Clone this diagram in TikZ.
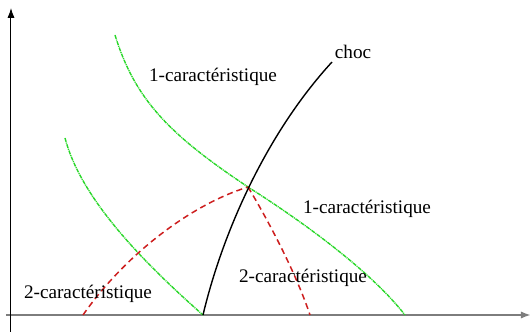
\documentclass[tikz,border=0pt]{standalone}
\usepackage{fontspec}
\setmainfont{Liberation Serif}
\usetikzlibrary{arrows.meta}
\definecolor{charg}{RGB}{40,215,40}
\definecolor{charr}{RGB}{205,30,30}
\definecolor{axgray}{RGB}{125,125,125}
\begin{document}
\begin{tikzpicture}[x=0.5pt,y=-0.5pt,
  lbl/.style={inner sep=0pt,font=\fontsize{9.6}{11}\selectfont},
  onechar/.style={charg,line width=0.7pt,dash pattern=on 2pt off 0.4pt on 0.5pt off 0.4pt},
  twochar/.style={charr,line width=0.75pt,dash pattern=on 3pt off 2pt},
  shock/.style={black,line width=0.7pt},
  tip/.style={-{Latex[length=5pt,width=3.6pt]}}]
\useasboundingbox (0,0) rectangle (532,332);
% axes
\coordinate (xs) at (6,315);
\coordinate (xe) at (531,315);
\coordinate (ys) at (11,332);
\coordinate (ye) at (11,8);
\draw[axgray,line width=1pt,tip] (xs) -- (xe);
\draw[black,line width=0.5pt,tip] (ys) -- (ye);
% key points
\coordinate (m) at (248,187);
\coordinate (a0) at (115,35);
\coordinate (a1) at (405,315);
\coordinate (b0) at (65,138);
\coordinate (b1) at (203,315);
\coordinate (r0) at (83,315);
\coordinate (r1) at (310,315);
\coordinate (s1) at (332,62);
% 1-characteristics
\draw[onechar] (a0) .. controls (135,100) and (170,135) .. (m)
                    .. controls (300,220) and (370,270) .. (a1);
\draw[onechar] (b0) .. controls (80,195) and (135,255) .. (b1);
% 2-characteristics
\draw[twochar] (r0) .. controls (125,255) and (190,205) .. (m);
\draw[twochar] (m) .. controls (265,215) and (295,270) .. (r1);
% shock
\draw[shock] (b1) .. controls (222,235) and (265,135) .. (s1);
% labels
\node[lbl] (l1) at (213,77) {1-caractéristique};
\node[lbl] (lc) at (353,52) {choc};
\node[lbl] (l2) at (367,209) {1-caractéristique};
\node[lbl] (l3) at (303,278) {2-caractéristique};
\node[lbl] (l4) at (88,294) {2-caractéristique};
\end{tikzpicture}
\end{document}
